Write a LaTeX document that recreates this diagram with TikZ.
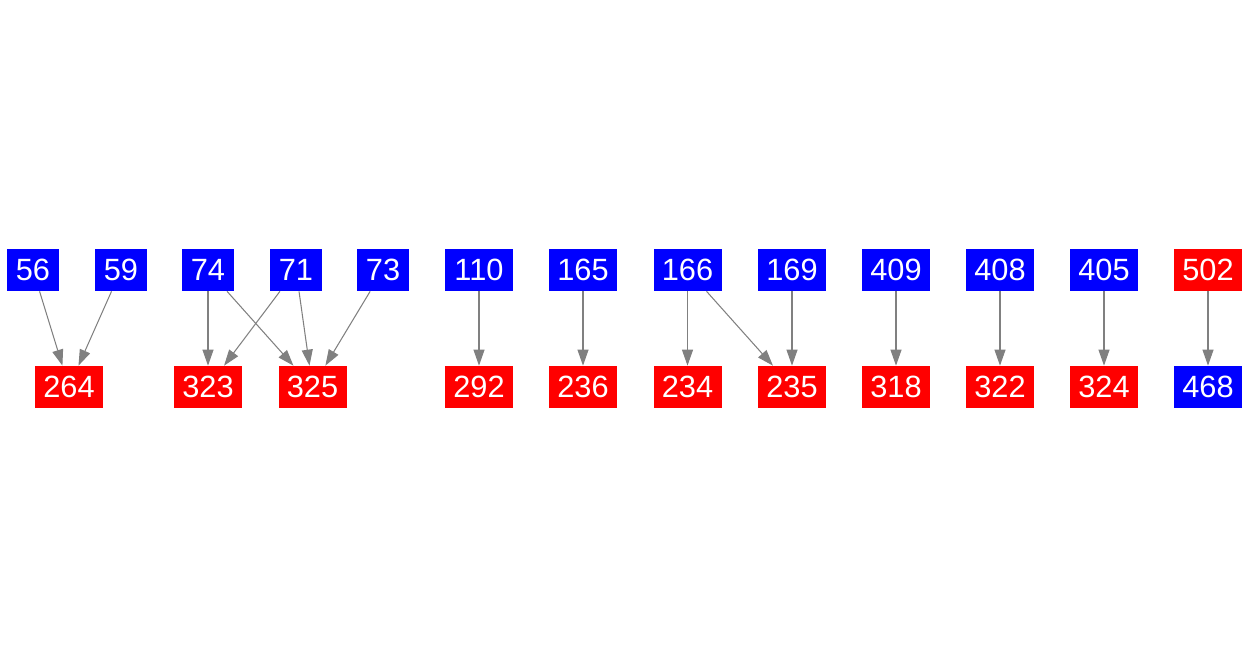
\documentclass[tikz,border=0pt]{standalone}
\usepackage{fontspec}
\setmainfont{Liberation Sans}
\usetikzlibrary{arrows.meta}
\definecolor{srcblue}{HTML}{0000FF}
\definecolor{dstred}{HTML}{FF0000}
\definecolor{edgegray}{HTML}{808080}

\begin{document}
\begin{tikzpicture}[every node/.style={font=\fontsize{17.5}{20}\selectfont, text=white,
      inner sep=0pt, minimum height=0.84cm},
    bluebox/.style={fill=srcblue, minimum width=1.04cm},
    wideblue/.style={fill=srcblue, minimum width=1.36cm},
    redbox/.style={fill=dstred, minimum width=1.36cm},
    link/.style={-{Triangle[length=0.32cm, width=0.22cm]}, color=edgegray, line width=0.6pt}]
    \useasboundingbox (0, 0) rectangle (25, 13.12);
    % top row
    \node[bluebox] (n56) at (0.66, 7.72) {56};
    \node[bluebox] (n59) at (2.42, 7.72) {59};
    \node[bluebox] (n74) at (4.16, 7.72) {74};
    \node[bluebox] (n71) at (5.92, 7.72) {71};
    \node[bluebox] (n73) at (7.66, 7.72) {73};
    \node[wideblue] (n110) at (9.58, 7.72) {110};
    \node[wideblue] (n165) at (11.66, 7.72) {165};
    \node[wideblue] (n166) at (13.75, 7.72) {166};
    \node[wideblue] (n169) at (15.84, 7.72) {169};
    \node[wideblue] (n409) at (17.92, 7.72) {409};
    \node[wideblue] (n408) at (20.00, 7.72) {408};
    \node[wideblue] (n405) at (22.08, 7.72) {405};
    \node[redbox] (n502) at (24.16, 7.72) {502};
    % bottom row
    \node[redbox] (n264) at (1.38, 5.38) {264};
    \node[redbox] (n323) at (4.16, 5.38) {323};
    \node[redbox] (n325) at (6.25, 5.38) {325};
    \node[redbox] (n292) at (9.58, 5.38) {292};
    \node[redbox] (n236) at (11.66, 5.38) {236};
    \node[redbox] (n234) at (13.75, 5.38) {234};
    \node[redbox] (n235) at (15.84, 5.38) {235};
    \node[redbox] (n318) at (17.92, 5.38) {318};
    \node[redbox] (n322) at (20.00, 5.38) {322};
    \node[redbox] (n324) at (22.08, 5.38) {324};
    \node[wideblue] (n468) at (24.16, 5.38) {468};
    % links
    \draw[link] (n56) -- (n264);
    \draw[link] (n59) -- (n264);
    \draw[link] (n74) -- (n323);
    \draw[link] (n74) -- (n325);
    \draw[link] (n71) -- (n323);
    \draw[link] (n71) -- (n325);
    \draw[link] (n73) -- (n325);
    \draw[link] (n110) -- (n292);
    \draw[link] (n165) -- (n236);
    \draw[link] (n166) -- (n234);
    \draw[link] (n166) -- (n235);
    \draw[link] (n169) -- (n235);
    \draw[link] (n409) -- (n318);
    \draw[link] (n408) -- (n322);
    \draw[link] (n405) -- (n324);
    \draw[link] (n502) -- (n468);
\end{tikzpicture}
\end{document}
